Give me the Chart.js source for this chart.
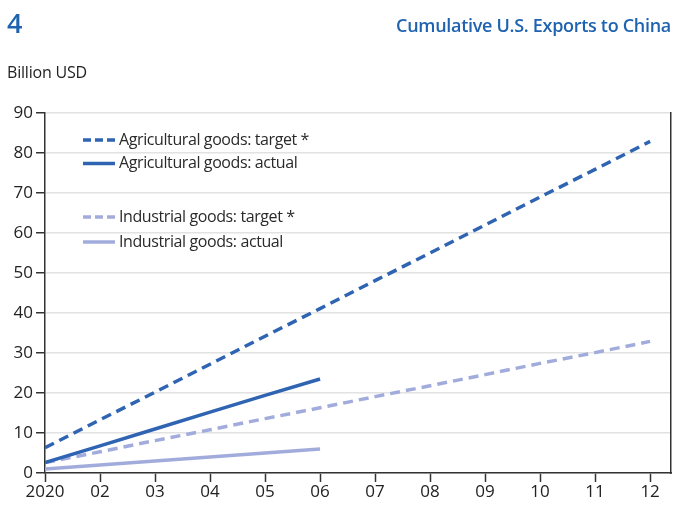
<!DOCTYPE html>
<html>
<head>
<meta charset="utf-8">
<script src="https://cdn.jsdelivr.net/npm/chart.js@4.4.1/dist/chart.umd.min.js"></script>
<style>
  html, body { margin: 0; padding: 0; background: #fff; }
  body { width: 673px; height: 506px; position: relative; overflow: hidden; font-family: "Open Sans", sans-serif; }
  #wrap { position: absolute; left: 0; top: 0; width: 673px; height: 506px; }
  .num { position: absolute; left: 7px; top: 4px; font-size: 27px; font-weight: 600; color: #1f63b0; }
  .title { position: absolute; right: 2px; top: 13px; font-size: 18px; font-weight: 600; color: #1f63b0; letter-spacing: -0.3px; }
  .unit { position: absolute; left: 7px; top: 61px; font-size: 16px; color: #222; letter-spacing: -0.2px; }
</style>
</head>
<body>
<div id="wrap"><canvas id="c" width="673" height="506"></canvas></div>
<div class="num">4</div>
<div class="title">Cumulative U.S. Exports to China</div>
<div class="unit">Billion USD</div>
<script>
const months = ['2020','02','03','04','05','06','07','08','09','10','11','12'];
const agTarget = [6.3, 13.3, 20.2, 27.2, 34.2, 41.1, 48.1, 55.0, 62.0, 69.0, 75.9, 82.9];
const agActual = [2.6, 6.8, 11.0, 15.2, 19.4, 23.5];
const indTarget = [2.6, 5.3, 8.1, 10.8, 13.6, 16.3, 19.1, 21.8, 24.6, 27.4, 30.1, 32.9];
const indActual = [1.0, 2.0, 3.0, 4.0, 5.0, 6.0];
const seriesNames = ['Agricultural goods: target *', 'Agricultural goods: actual', 'Industrial goods: target *', 'Industrial goods: actual'];
const yTicks = [0, 10, 20, 30, 40, 50, 60, 70, 80, 90];

const AG = '#2f64b2';
const IND = '#a2acdc';
const FONT = '"Open Sans", sans-serif';

const toPts = arr => arr.map((v, i) => ({ x: i + 1, y: v }));

const legendRows = [140, 163.5, 217, 242];
const legendPlugin = {
  id: 'customLegend',
  afterDatasetsDraw(chart) {
    const ctx = chart.ctx;
    ctx.save();
    chart.data.datasets.forEach((ds, i) => {
      const y = legendRows[i];
      ctx.beginPath();
      ctx.strokeStyle = ds.borderColor;
      ctx.lineWidth = 3.5;
      ctx.setLineDash(ds.borderDash && ds.borderDash.length ? [8, 4] : []);
      ctx.moveTo(83, y);
      ctx.lineTo(115, y);
      ctx.stroke();
      ctx.setLineDash([]);
      ctx.fillStyle = '#2a2a2a';
      ctx.font = '16px ' + FONT;
      if ('letterSpacing' in ctx) ctx.letterSpacing = '-0.4px';
      ctx.textBaseline = 'middle';
      ctx.textAlign = 'left';
      ctx.fillText(ds.label, 119, y);
    });
    ctx.restore();
  }
};

new Chart(document.getElementById('c'), {
  type: 'line',
  data: {
    datasets: [
      { label: seriesNames[0], data: toPts(agTarget), borderColor: AG, borderWidth: 3.5, borderDash: [10, 6], pointRadius: 0, tension: 0 },
      { label: seriesNames[1], data: toPts(agActual), borderColor: AG, borderWidth: 3.5, pointRadius: 0, tension: 0 },
      { label: seriesNames[2], data: toPts(indTarget), borderColor: IND, borderWidth: 3.5, borderDash: [10, 6], pointRadius: 0, tension: 0 },
      { label: seriesNames[3], data: toPts(indActual), borderColor: IND, borderWidth: 3.5, pointRadius: 0, tension: 0 }
    ]
  },
  options: {
    responsive: false,
    animation: false,
    devicePixelRatio: 1,
    layout: { padding: { top: 113, left: 0, right: 0, bottom: 0 } },
    plugins: { legend: { display: false }, tooltip: { enabled: false }, title: { display: false } },
    scales: {
      x: {
        type: 'linear',
        min: 1,
        max: 12.38,
        afterBuildTicks: s => { s.ticks = months.map((m, i) => ({ value: i + 1 })); },
        afterFit: s => { s.height = 33; },
        ticks: {
          callback: v => months[v - 1],
          color: '#222',
          font: { size: 17, family: FONT },
          padding: 0,
          maxRotation: 0,
          autoSkip: false
        },
        grid: { drawOnChartArea: false, drawTicks: true, tickLength: 9, tickColor: '#333', tickWidth: 1.5 },
        border: { display: true, color: '#333', width: 1.5 }
      },
      y: {
        min: 0,
        max: 90,
        afterBuildTicks: s => { s.ticks = yTicks.map(v => ({ value: v })); },
        afterFit: s => { s.width = 45; },
        ticks: { color: '#222', font: { size: 17, family: FONT }, padding: 3 },
        grid: { color: '#e2e2e2', lineWidth: 1.5, tickLength: 9, tickColor: '#333', tickWidth: 1.5 },
        border: { display: true, color: '#333', width: 1.5 }
      },
      y2: {
        position: 'right',
        min: 0,
        max: 90,
        ticks: { display: false },
        grid: { drawOnChartArea: false, drawTicks: false },
        border: { display: true, color: '#333', width: 1.5 },
        afterFit: s => { s.width = 2; }
      }
    }
  },
  plugins: [legendPlugin]
});
</script>
</body>
</html>
